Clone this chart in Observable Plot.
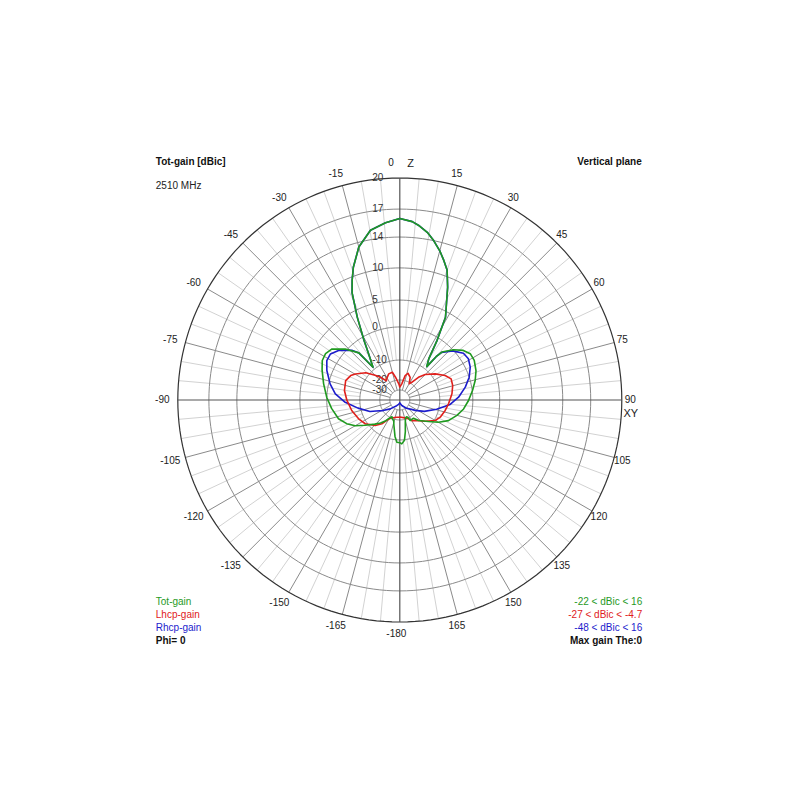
<!DOCTYPE html>
<html><head><meta charset="utf-8">
<script src="https://cdn.jsdelivr.net/npm/d3@7"></script>
<script src="https://cdn.jsdelivr.net/npm/@observablehq/plot@0.6"></script>
<style>
html,body{margin:0;padding:0;background:#fff;}
#chart{width:800px;height:800px;}
</style></head><body><div id="chart"></div>
<script>
// ---- data (theta in degrees from Z axis, gain in dBic) ----
const ringValues = [20, 17, 14, 10, 5, 0, -10, -20, -30];
const angleTickValues = [-165,-150,-135,-120,-105,-90,-75,-60,-45,-30,-15,15,30,45,60,75,90,105,120,135,150,165];
const dbKnots = [-50, -40, -30, -20, -10, 0, 5, 10, 14, 17, 20];
const radiusKnots = [0.011, 0.0225, 0.045, 0.09, 0.18, 0.329, 0.45, 0.595, 0.734, 0.86, 1];

const totGain = [[-180,-9.2],[-176,-9.3],[-172.5,-11.6],[-167,-16.9],[-163,-19.5],[-160,-19.5],[-155,-21.5],[-150,-19.5],[-146,-17.5],[-140,-15.0],[-134,-12.6],[-126,-9.1],[-120,-6.5],[-114,-4.5],[-107,-2.7],[-97,-1.3],[-88,0.0],[-78,0.9],[-69,1.9],[-63,2.6],[-58,2.7],[-53,2.2],[-47,0.3],[-41,-3.2],[-39.3,-9.3],[-34,-5.2],[-31,-1.1],[-27.2,3.7],[-24,7.7],[-21.7,9.5],[-19.3,11.1],[-15,13.4],[-9.8,15.0],[-4.6,15.6],[0,16.0],[4,15.7],[6.5,15.3],[9.3,14.75],[12,14.0],[15,12.9],[17.5,11.85],[20,10.8],[23,8.5],[28.9,4.0],[32,-0.8],[35.1,-6.8],[38.9,-9.1],[40,-5.0],[41.3,-2.8],[47,0.1],[52,1.4],[56.7,2.1],[62,2.1],[69,1.6],[75.5,0.9],[82.6,0.05],[90.4,-1.3],[98,-2.6],[105,-4.2],[113,-6.1],[120,-8.6],[127,-12.1],[137.6,-16.1],[143,-18.6],[153,-18.5],[155,-21],[158.5,-22],[163,-20.5],[166,-18.6],[170,-14],[173.4,-9.8],[177.4,-8.8],[180,-9.2]];

const lhcpGain = [[-180,-23],[-170,-22.5],[-160,-21],[-152,-19.5],[-147.6,-17.9],[-143,-15.1],[-136,-12.3],[-124.5,-9.4],[-114.5,-8.4],[-102.3,-7.2],[-90.5,-6.1],[-80.3,-5.1],[-70.3,-4.7],[-63.6,-5.5],[-59.6,-6.5],[-51.2,-8.9],[-45,-12.5],[-40.2,-15.1],[-35,-18.3],[-30,-17.2],[-23,-15.8],[-15,-15.6],[-10.7,-18.4],[-3.5,-23.8],[0,-27],[7,-23.7],[12.4,-17.5],[17,-16.0],[24.5,-17.5],[30,-21.3],[34,-19.3],[39.4,-15.3],[44.9,-12],[53.5,-8.8],[61.6,-6.5],[67.6,-5.3],[74.7,-5.5],[83.2,-6.2],[94.5,-7.3],[103,-8],[113,-8.8],[120,-9.7],[130,-13.4],[140,-16.7],[150,-18.1],[155,-19.6],[165,-21.5],[180,-23]];

const rhcpGain = [[-180,-48],[-165,-42],[-151,-37],[-133,-27],[-122,-20],[-115,-17],[-111,-14],[-101,-9.2],[-92,-5.4],[-84.5,-2.5],[-77,-0.45],[-68,1.05],[-61.6,1.85],[-56.4,1.9],[-51,1.07],[-44,-1.2],[-41,-3.3],[-39.3,-9.3],[-34,-5.2],[-31,-1.1],[-27.2,3.7],[-24,7.7],[-21.7,9.5],[-19.3,11.1],[-15,13.4],[-9.8,15.0],[-4.6,15.6],[0,16.0],[4,15.7],[6.5,15.3],[9.3,14.75],[12,14.0],[15,12.9],[17.5,11.85],[20,10.8],[23,8.5],[28.9,4.0],[32,-0.8],[35.1,-6.8],[38.9,-9.1],[40,-5.0],[41.3,-2.9],[47,-0.3],[53.7,1.1],[59,1.3],[65,0.87],[71.8,0.0],[78.9,-1.9],[87.3,-4.3],[95,-6.8],[104,-11],[115,-16.5],[124,-21.4],[128.7,-25],[141.5,-29.5],[160,-38.2],[180,-48]];

const seriesNames = ["Tot-gain", "Lhcp-gain", "Rhcp-gain"];
const seriesRanges = ["-22 < dBic < 16", "-27 < dBic < -4.7", "-48 < dBic < 16"];
const seriesColors = ["#1f9a1f", "#e0201c", "#1c1ccc"];

// ---- polar helpers ----
const rad = d3.scaleLinear().domain(dbKnots).range(radiusKnots).clamp(true);
const toRad = a => a * Math.PI / 180;
const px = (a, r) => r * Math.sin(toRad(a));
const py = (a, r) => r * Math.cos(toRad(a));

const rows = (pairs, name) => pairs.map(([theta, gain]) => ({series: name, theta, gain}));
const tot = rows(totGain, seriesNames[0]);
const lhcp = rows(lhcpGain, seriesNames[1]);
const rhcp = rows(rhcpGain, seriesNames[2]);

const ringPts = ringValues.flatMap(v => d3.range(0, 361, 2).map(a => ({v, a})));
const allAngles = d3.range(0, 360, 5);
const lightSpokes = allAngles.filter(a => a % 15 !== 0);
const darkSpokes = allAngles.filter(a => a % 15 === 0 && a % 90 !== 0);

const font = "'Liberation Sans', Arial, sans-serif";
const LR = 1.054;

const curve = (data, color) => Plot.line(data, {
  x: d => px(d.theta, rad(d.gain)), y: d => py(d.theta, rad(d.gain)),
  stroke: color, strokeWidth: 1.6, curve: "linear"
});

const cornerText = (txt, anchor, dx, dy, opts = {}) =>
  Plot.text([txt], {text: d => d, frameAnchor: anchor, lineAnchor: "middle", dx, dy, fontSize: 10, ...opts});

const chart = Plot.plot({
  width: 800, height: 800,
  marginLeft: 177.3, marginRight: 178.7, marginTop: 177.5, marginBottom: 178.5,
  x: {domain: [-1, 1], axis: null},
  y: {domain: [-1, 1], axis: null},
  style: {fontFamily: font, background: "#fff", color: "#222"},
  marks: [
    Plot.link(lightSpokes, {x1: a => px(a, rad(-10)), y1: a => py(a, rad(-10)), x2: a => px(a, 1), y2: a => py(a, 1), stroke: "#d2d2d2", strokeWidth: 1}),
    Plot.link(darkSpokes, {x1: a => px(a, rad(-30)), y1: a => py(a, rad(-30)), x2: a => px(a, 1), y2: a => py(a, 1), stroke: "#8a8a8a", strokeWidth: 1}),
    Plot.line(ringPts.filter(d => d.v !== 20), {x: d => px(d.a, rad(d.v)), y: d => py(d.a, rad(d.v)), z: "v", stroke: "#8a8a8a", strokeWidth: 1}),
    Plot.line(ringPts.filter(d => d.v === 20), {x: d => px(d.a, rad(d.v)), y: d => py(d.a, rad(d.v)), z: "v", stroke: "#333", strokeWidth: 1.2}),
    Plot.link([0, 90], {x1: a => px(a, 1), y1: a => py(a, 1), x2: a => px(a + 180, 1), y2: a => py(a + 180, 1), stroke: "#555", strokeWidth: 1.2}),
    // radial labels
    Plot.text(ringValues, {x: 0, y: v => rad(v), text: v => String(v), textAnchor: "start", dx: -27.5, fontSize: 10, fill: "#333"}),
    // angle labels
    Plot.text(angleTickValues, {x: a => px(a, LR), y: a => py(a, LR), text: a => String(a), textAnchor: "middle", dx: -3.5, fontSize: 10, fill: "#222"}),
    Plot.text([0], {x: a => px(a, 1.0676), y: a => py(a, 1.0676), text: () => "0", textAnchor: "end", dx: -6, fontSize: 10, fill: "#222"}),
    Plot.text([0], {x: a => px(a, 1.0676), y: a => py(a, 1.0676), text: () => "Z", textAnchor: "start", dx: 7.5, fontSize: 11, fill: "#222"}),
    Plot.text([180], {x: a => px(a, LR), y: a => py(a, LR), text: () => "-180", textAnchor: "middle", dx: -3.5, fontSize: 10, fill: "#222"}),
    Plot.text([90], {x: a => px(a, LR), y: a => py(a, LR), text: () => "XY", textAnchor: "start", dx: -10.3, dy: 13, fontSize: 11, fill: "#222"}),
    // curves
    curve(rhcp, seriesColors[2]),
    curve(lhcp, seriesColors[1]),
    curve(tot, seriesColors[0]),
    // corner annotations
    cornerText("Tot-gain [dBic]", "top-left", -22, -16.5, {textAnchor: "start", fontWeight: "bold", fill: "#111"}),
    cornerText("2510 MHz", "top-left", -22, 8, {textAnchor: "start", fill: "#222"}),
    cornerText("Vertical plane", "top-right", 20, -16.5, {textAnchor: "end", fontWeight: "bold", fill: "#111"}),
    cornerText(seriesNames[0], "bottom-left", -22, -20, {textAnchor: "start", fill: seriesColors[0]}),
    cornerText(seriesNames[1], "bottom-left", -22, -7, {textAnchor: "start", fill: seriesColors[1]}),
    cornerText(seriesNames[2], "bottom-left", -22, 6.2, {textAnchor: "start", fill: seriesColors[2]}),
    cornerText("Phi= 0", "bottom-left", -22, 18.5, {textAnchor: "start", fontWeight: "bold", fill: "#111"}),
    cornerText(seriesRanges[0], "bottom-right", 20.4, -20, {textAnchor: "end", fill: seriesColors[0]}),
    cornerText(seriesRanges[1], "bottom-right", 20.4, -7, {textAnchor: "end", fill: seriesColors[1]}),
    cornerText(seriesRanges[2], "bottom-right", 20.4, 6.2, {textAnchor: "end", fill: seriesColors[2]}),
    cornerText("Max gain The:0", "bottom-right", 20.4, 18.5, {textAnchor: "end", fontWeight: "bold", fill: "#111"})
  ]
});
document.getElementById("chart").appendChild(chart);
</script></body></html>
